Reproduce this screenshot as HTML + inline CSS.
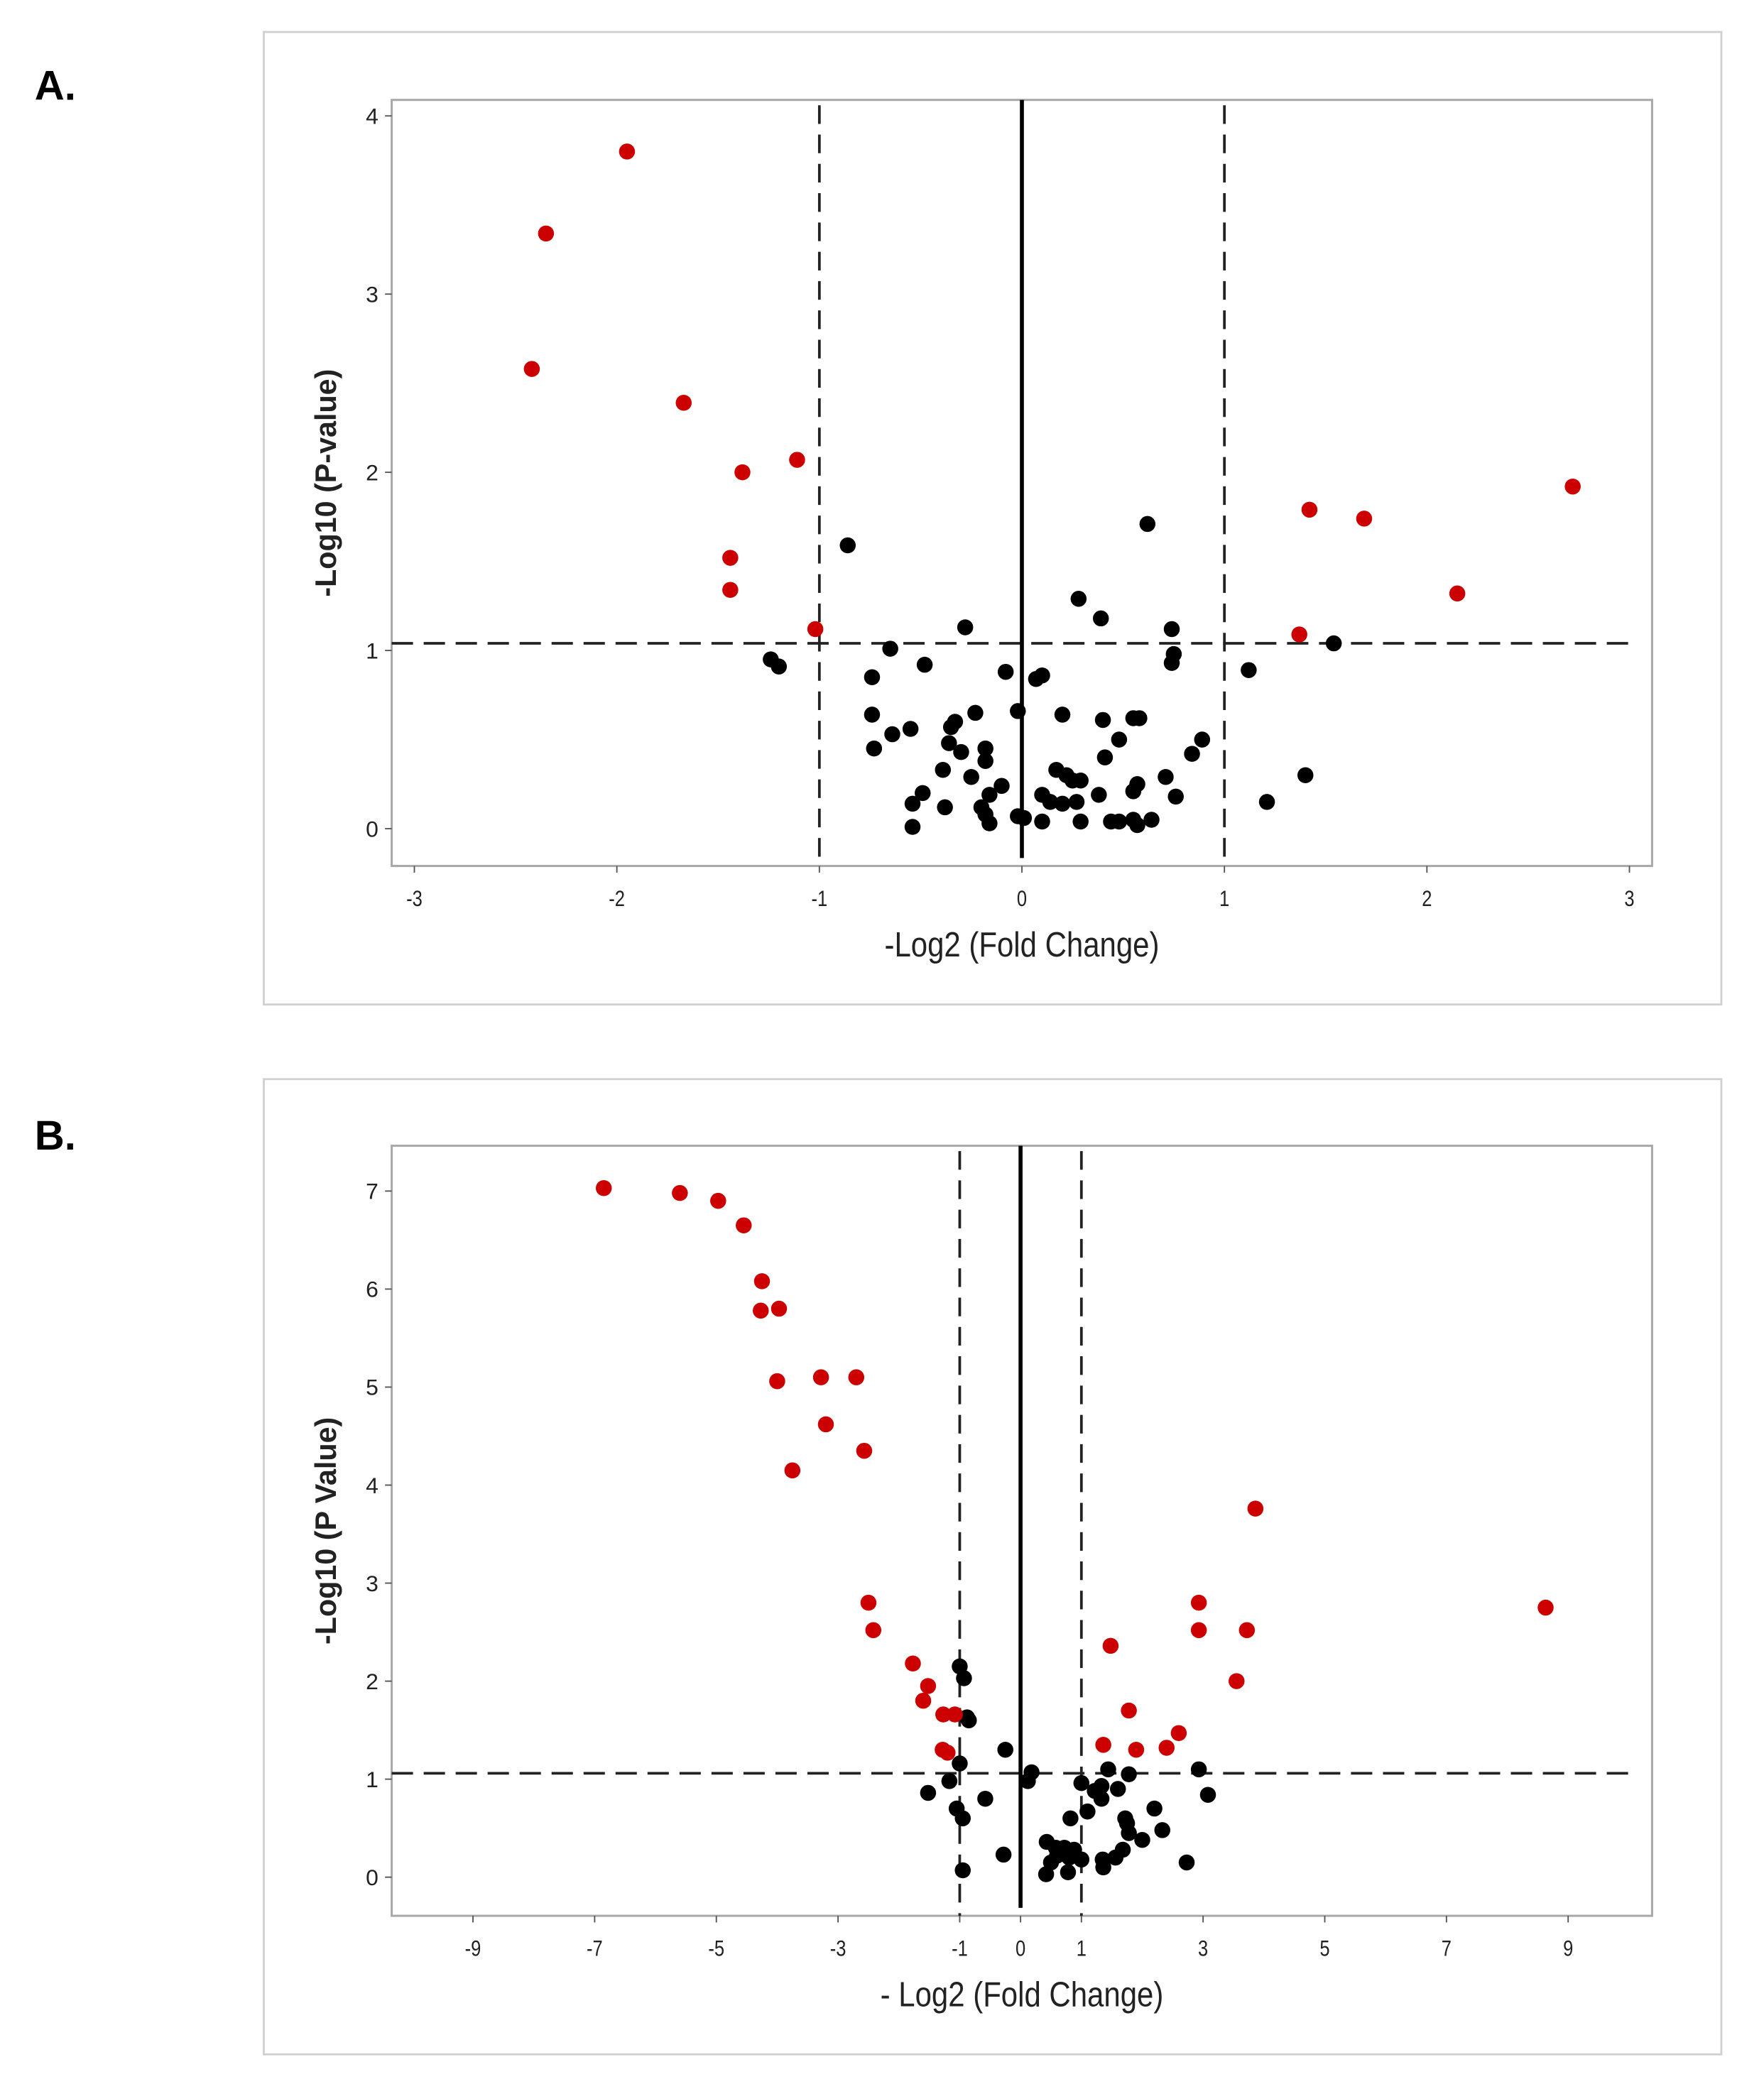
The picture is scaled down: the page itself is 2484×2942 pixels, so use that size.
<!DOCTYPE html>
<html><head><meta charset="utf-8"><style>
html,body{margin:0;padding:0;background:#fff;}
svg{display:block;font-family:"Liberation Sans",sans-serif;}
</style></head><body>
<svg width="2484" height="2942" viewBox="0 0 1324 1568" preserveAspectRatio="none">
<text x="26" y="75" font-size="31" font-weight="bold">A.</text>
<text x="26" y="863" font-size="31" font-weight="bold">B.</text>
<rect x="198" y="24" width="1094" height="730" fill="none" stroke="#d0d0d0" stroke-width="1.5"/>
<rect x="198" y="810" width="1094" height="732" fill="none" stroke="#d0d0d0" stroke-width="1.5"/>
<g id="ga"></g>
<g id="gb"></g>
</svg>
<script>
const aRedX=[-1.95,-2.35,-2.42,-1.67,-1.38,-1.11,-1.44,-1.44,-1.02,1.42,1.69,2.72,2.15,1.37];
const aRedY=[3.8,3.34,2.58,2.39,2.0,2.07,1.52,1.34,1.12,1.79,1.74,1.92,1.32,1.09];
const aBlkX=[-0.86,0.62,0.28,0.39,-0.28,0.74,1.54,-0.65,0.75,0.74,-1.24,-1.2,-0.48,-0.08,0.07,0.1,-0.74,1.12,-0.74,-0.02,0.2,0.4,0.55,0.58,-0.23,-0.64,-0.55,-0.73,-0.35,-0.33,-0.36,-0.3,-0.18,-0.18,0.48,0.89,0.41,0.84,-0.39,-0.25,0.17,0.22,0.25,0.29,0.71,1.4,-0.49,-0.54,-0.38,-0.16,-0.1,-0.2,-0.18,0.1,0.14,0.2,0.27,0.38,0.55,0.57,0.76,1.21,-0.02,0.01,-0.54,-0.16,0.1,0.29,0.44,0.48,0.55,0.57,0.64];
const aBlkY=[1.59,1.71,1.29,1.18,1.13,1.12,1.04,1.01,0.98,0.93,0.95,0.91,0.92,0.88,0.84,0.86,0.85,0.89,0.64,0.66,0.64,0.61,0.62,0.62,0.65,0.53,0.56,0.45,0.57,0.6,0.48,0.43,0.45,0.38,0.5,0.5,0.4,0.42,0.33,0.29,0.33,0.3,0.27,0.27,0.29,0.3,0.2,0.14,0.12,0.19,0.24,0.12,0.08,0.19,0.15,0.14,0.15,0.19,0.21,0.25,0.18,0.15,0.07,0.06,0.01,0.03,0.04,0.04,0.04,0.04,0.05,0.02,0.05];
const aXTicks=[-3,-2,-1,0,1,2,3];
const aYTicks=[0,1,2,3,4];
const bRedX=[-6.85,-5.6,-4.97,-4.55,-4.25,-4.27,-3.97,-4.0,-3.28,-2.7,-3.2,-2.57,-3.75,3.86,8.63,-2.5,-2.42,2.93,2.93,3.72,-1.77,-1.52,-1.6,1.48,3.55,-1.27,-1.08,1.78,2.6,-1.28,-1.2,1.36,1.9,2.4];
const bRedY=[7.03,6.98,6.9,6.65,6.08,5.78,5.8,5.06,5.1,5.1,4.62,4.35,4.15,3.76,2.75,2.8,2.52,2.8,2.52,2.52,2.18,1.95,1.8,2.36,2.0,1.66,1.66,1.7,1.47,1.3,1.27,1.35,1.3,1.32];
const bBlkX=[-1.0,-0.93,-0.88,-0.85,-0.25,-1.0,0.18,0.12,-1.17,1.44,1.78,2.93,1.0,1.22,1.33,1.6,1.33,-1.52,3.08,-0.58,1.1,2.2,-1.05,-0.95,0.82,1.72,1.75,1.78,2.33,2.0,-0.28,0.43,0.58,0.72,0.88,0.6,0.8,1.0,1.68,1.56,1.35,1.36,2.73,0.5,0.42,0.78,-0.95];
const bBlkY=[2.15,2.03,1.63,1.6,1.3,1.16,1.07,0.98,0.98,1.1,1.05,1.1,0.96,0.88,0.93,0.9,0.8,0.86,0.84,0.8,0.67,0.7,0.7,0.6,0.6,0.6,0.55,0.45,0.48,0.38,0.23,0.36,0.3,0.3,0.28,0.22,0.2,0.18,0.28,0.2,0.18,0.1,0.15,0.15,0.03,0.05,0.07];
const bXTicks=[-9,-7,-5,-3,-1,0,1,3,5,7,9];
const bYTicks=[0,1,2,3,4,5,6,7];
const NS="http://www.w3.org/2000/svg";
function mk(p,tag,at){const e=document.createElementNS(NS,tag);for(const k in at)e.setAttribute(k,at[k]);p.appendChild(e);return e;}
function draw(g,cfg){
  const sx=v=>cfg.x0+(v-cfg.xa)*(cfg.x1-cfg.x0)/(cfg.xb-cfg.xa);
  const sy=v=>cfg.y0+(v-cfg.ya)*(cfg.y1-cfg.y0)/(cfg.yb-cfg.ya);
  const L=cfg.L,T=cfg.T,R=cfg.R,B=cfg.B;
  let r=mk(g,'rect',{x:L,y:T,width:R-L,height:B-T,fill:'none',stroke:'#a8a8a8','stroke-width':1.6});
  
  
  cfg.xt.forEach(t=>{
    const x=sx(t);
    let l=mk(g,'line',{x1:x,x2:x,y1:B,y2:B+5,stroke:'#555'});
    
    
    let tx=mk(g,'text',{x:x,y:B+30,'font-size':17,'text-anchor':'middle',fill:'#222',transform:'translate('+x+' 0) scale(0.8 1) translate('+(-x)+' 0)'});
    tx.textContent=t;
    
    
  });
  cfg.yt.forEach(t=>{
    const y=sy(t);
    let l=mk(g,'line',{x1:L-5,x2:L,y1:y,y2:y,stroke:'#555'});
    
    
    let tx=mk(g,'text',{x:L-10,y:y+6,'font-size':17,'text-anchor':'end',fill:'#222'});
    tx.textContent=t;
    
    
  });
  let h=mk(g,'line',{x1:L,x2:R-14,y1:sy(cfg.th),y2:sy(cfg.th),stroke:'#222','stroke-width':2,'stroke-dasharray':'16,8'});
  
  
  [-1,1].forEach(v=>{
    let d=mk(g,'line',{x1:sx(v),x2:sx(v),y1:T+4,y2:B,stroke:'#222','stroke-width':2,'stroke-dasharray':'14,8'});
    
    
  });
  let z=mk(g,'line',{x1:sx(0),x2:sx(0),y1:T,y2:B-6,stroke:'#000','stroke-width':3});
  
  
  cfg.bx.forEach((v,i)=>{
    let c=mk(g,'circle',{cx:sx(v),cy:sy(cfg.by[i]),r:6,fill:'#000'});
    
    
  });
  cfg.rx.forEach((v,i)=>{
    let c=mk(g,'circle',{cx:sx(v),cy:sy(cfg.ry[i]),r:6,fill:'#cc0000'});
    
    
  });
  const mx=(L+R)/2;
  let xt=mk(g,'text',{x:mx,y:B+68,'font-size':26,'text-anchor':'middle',fill:'#222',transform:'translate('+mx+' 0) scale(0.86 1) translate('+(-mx)+' 0)'});
  xt.textContent=cfg.xl;
  
  
  const cy=(T+B)/2;
  let yt=mk(g,'text',{x:252,y:cy,'font-size':22,'font-weight':'bold','text-anchor':'middle',fill:'#222',transform:'rotate(-90 252 '+cy+')'});
  yt.textContent=cfg.yl;
  
  
}
draw(document.getElementById('ga'),{L:294,T:75,R:1240,B:650,xa:-3,xb:3,x0:311,x1:1223,ya:0,yb:4,y0:622,y1:87,xt:aXTicks,yt:aYTicks,th:1.04,rx:aRedX,ry:aRedY,bx:aBlkX,by:aBlkY,xl:'-Log2 (Fold Change)',yl:'-Log10 (P-value)'});
draw(document.getElementById('gb'),{L:294,T:860,R:1240,B:1438,xa:-9,xb:9,x0:355,x1:1177,ya:0,yb:7,y0:1409,y1:894,xt:bXTicks,yt:bYTicks,th:1.06,rx:bRedX,ry:bRedY,bx:bBlkX,by:bBlkY,xl:'- Log2 (Fold Change)',yl:'-Log10 (P Value)'});
</script>
</body></html>
